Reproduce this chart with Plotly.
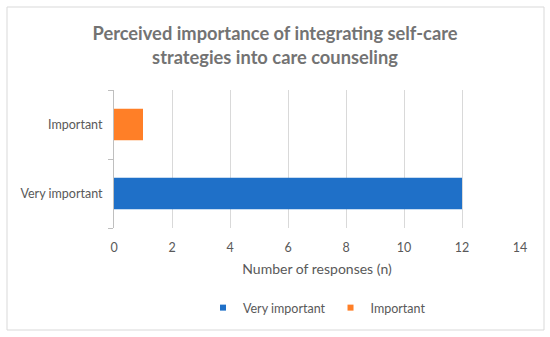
import plotly.graph_objects as go

categories = ["Very important", "Important"]
series_names = ["Very important", "Important"]
very_important_values = [12, None]
important_values = [None, 1]
x_ticks = [0, 2, 4, 6, 8, 10, 12, 14]
colors = ["#1F70C8", "#FF7F27"]

W, H = 550, 337
L, R, T, B = 114, 30, 90, 109
pw, ph = W - L - R, H - T - B

fig = go.Figure()
for name, vals, c in zip(series_names, [very_important_values, important_values], colors):
    fig.add_trace(go.Bar(y=categories, x=vals, name=name, orientation="h", showlegend=False,
                         marker=dict(color=c, line=dict(width=0)), width=0.46))
for name, c in zip(series_names, colors):
    fig.add_trace(go.Scatter(x=[None], y=[None], mode="markers", name=name,
                             marker=dict(symbol="square", size=6, color=c)))

def px(x):
    return (x - L) / pw

def py(y):
    return 1 - (y - T) / ph

fig.add_shape(type="rect", xref="paper", yref="paper",
              x0=px(7), x1=px(544), y0=py(330), y1=py(7),
              line=dict(color="#D9D9D9", width=1), fillcolor="rgba(0,0,0,0)", layer="below")

fig.update_layout(
    width=W, height=H,
    margin=dict(l=L, r=R, t=T, b=B, autoexpand=False),
    paper_bgcolor="white", plot_bgcolor="white",
    barmode="overlay",
    font=dict(family="Lato, Open Sans, sans-serif", color="#595959", size=12),
    title=dict(text="<b>Perceived importance of integrating self-care<br>strategies into care counseling</b>",
               x=0.5, xanchor="center", y=1 - 40 / H, yanchor="top",
               font=dict(size=18.3, color="#737373")),
    xaxis=dict(range=[0, 14], tickvals=x_ticks, showgrid=True, gridcolor="#D9D9D9",
               zeroline=False, showline=False, ticks="outside", ticklen=8, tickcolor="rgba(0,0,0,0)",
               automargin=False,
               title=dict(text="Number of responses (n)", font=dict(size=14, color="#595959"), standoff=10),
               tickfont=dict(size=12.5, color="#595959")),
    yaxis=dict(categoryorder="array", categoryarray=categories, showline=True,
               linecolor="#BFBFBF", ticks="outside", tickson="boundaries", ticklen=5,
               tickcolor="#BFBFBF", showgrid=False, automargin=False, ticklabelstandoff=8,
               tickfont=dict(size=12.5, color="#595959")),
    legend=dict(orientation="h", x=0.5, xanchor="center", y=py(293), yanchor="top",
                font=dict(size=12.5, color="#595959")),
    showlegend=True,
)

fig.write_html("out.html", config={"displayModeBar": False},
               post_script="document.body.style.margin='0';document.body.style.padding='0';")
